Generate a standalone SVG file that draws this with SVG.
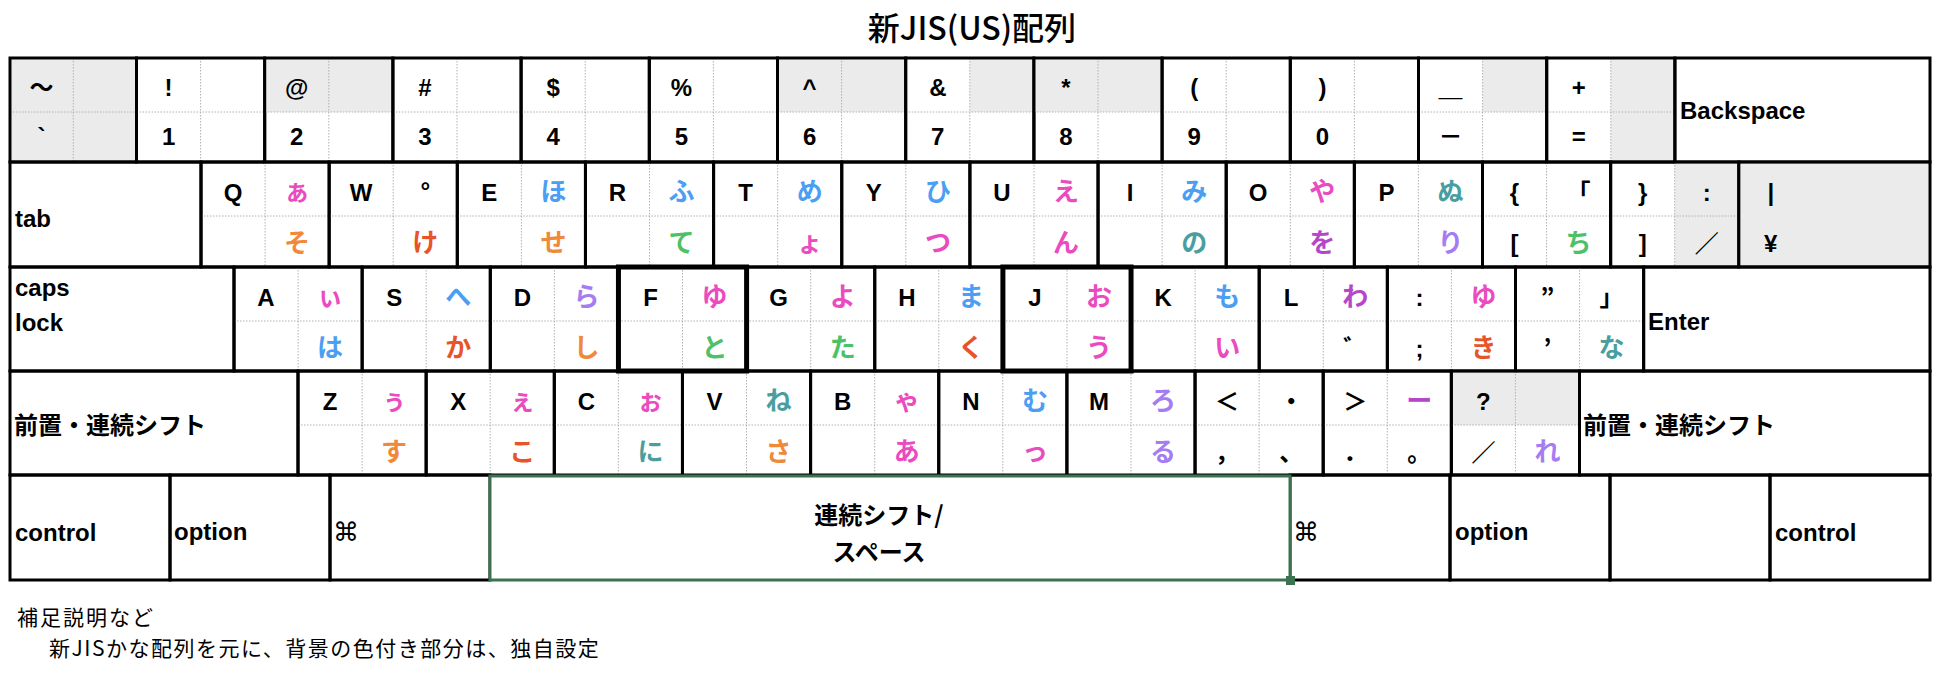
<svg xmlns="http://www.w3.org/2000/svg" width="1944" height="674" viewBox="0 0 1944 674">
<defs><style>
.k{fill:none;stroke:#000;stroke-width:3}
.kb{fill:none;stroke:#000;stroke-width:5}
.g{fill:#ebebeb}
.d{fill:none;stroke:#b0b0b0;stroke-width:1;stroke-dasharray:1.5 1.5}
text{font-family:"Liberation Sans","Noto Sans CJK JP",sans-serif;font-weight:bold;font-size:24px;fill:#000;text-anchor:middle}
.j{font-family:"Noto Sans CJK JP",sans-serif}
.s{text-anchor:start}
.pk,.or,.ro,.bl,.gr,.te,.pu,.la{font-family:"Noto Sans CJK JP",sans-serif;font-size:26px}
.pk{fill:#ea4bbf}.or{fill:#f0893a}.ro{fill:#e8532a}.bl{fill:#4c9ef3}.gr{fill:#4dc167}.te{fill:#4a9e9f}.pu{fill:#b447c9}.la{fill:#a57cf2}
.title{font-family:"Noto Sans CJK JP",sans-serif;font-weight:500;font-size:32px}
.note{font-family:"Noto Sans CJK JP",sans-serif;font-weight:normal;font-size:21px;text-anchor:start}
.cmd{font-family:"DejaVu Sans",sans-serif;font-weight:normal;font-size:26px;text-anchor:start}
.sp{fill:none;stroke:#3b7250;stroke-width:3}
</style></defs>
<rect x="0" y="0" width="1944" height="674" fill="#fff"/>
<text class="title" x="972" y="40">新JIS(US)配列</text>

<!-- Row 1 -->
<g id="key-tilde">
<rect class="g" x="11.5" y="59.5" width="123.5" height="101"/>
<path class="d" d="M73.25 58V162M10 112H136.5"/>
<rect class="k" x="10" y="58" width="126.5" height="104"/>
<text class="j" x="41.6" y="96">～</text><text x="41.6" y="145">`</text>
</g>
<g id="key-1">
<path class="d" d="M200.6 58V162M136.5 112H264.7"/>
<rect class="k" x="136.5" y="58" width="128.2" height="104"/>
<text x="168.6" y="96">!</text><text x="168.6" y="145">1</text>
</g>
<g id="key-2">
<rect class="g" x="266.2" y="59.5" width="125.2" height="52.5"/>
<path class="d" d="M328.8 58V162M264.7 112H392.9"/>
<rect class="k" x="264.7" y="58" width="128.2" height="104"/>
<text x="296.8" y="96">@</text><text x="296.8" y="145">2</text>
</g>
<g id="key-3">
<path class="d" d="M457 58V162M392.9 112H521.1"/>
<rect class="k" x="392.9" y="58" width="128.2" height="104"/>
<text x="425" y="96">#</text><text x="425" y="145">3</text>
</g>
<g id="key-4">
<path class="d" d="M585.2 58V162M521.1 112H649.3"/>
<rect class="k" x="521.1" y="58" width="128.2" height="104"/>
<text x="553.2" y="96">$</text><text x="553.2" y="145">4</text>
</g>
<g id="key-5">
<path class="d" d="M713.4 58V162M649.3 112H777.5"/>
<rect class="k" x="649.3" y="58" width="128.2" height="104"/>
<text x="681.4" y="96">%</text><text x="681.4" y="145">5</text>
</g>
<g id="key-6">
<rect class="g" x="779" y="59.5" width="125.2" height="52.5"/>
<path class="d" d="M841.6 58V162M777.5 112H905.7"/>
<rect class="k" x="777.5" y="58" width="128.2" height="104"/>
<text x="809.6" y="96">^</text><text x="809.6" y="145">6</text>
</g>
<g id="key-7">
<rect class="g" x="969.8" y="59.5" width="62.6" height="52.5"/>
<path class="d" d="M969.8 58V162M905.7 112H1033.9"/>
<rect class="k" x="905.7" y="58" width="128.2" height="104"/>
<text x="937.8" y="96">&amp;</text><text x="937.8" y="145">7</text>
</g>
<g id="key-8">
<rect class="g" x="1035.4" y="59.5" width="125.2" height="52.5"/>
<path class="d" d="M1098 58V162M1033.9 112H1162.1"/>
<rect class="k" x="1033.9" y="58" width="128.2" height="104"/>
<text x="1066" y="96">*</text><text x="1066" y="145">8</text>
</g>
<g id="key-9">
<path class="d" d="M1226.2 58V162M1162.1 112H1290.3"/>
<rect class="k" x="1162.1" y="58" width="128.2" height="104"/>
<text x="1194.2" y="96">(</text><text x="1194.2" y="145">9</text>
</g>
<g id="key-0">
<path class="d" d="M1354.4 58V162M1290.3 112H1418.5"/>
<rect class="k" x="1290.3" y="58" width="128.2" height="104"/>
<text x="1322.4" y="96">)</text><text x="1322.4" y="145">0</text>
</g>
<g id="key-minus">
<rect class="g" x="1482.6" y="59.5" width="62.6" height="52.5"/>
<path class="d" d="M1482.6 58V162M1418.5 112H1546.7"/>
<rect class="k" x="1418.5" y="58" width="128.2" height="104"/>
<text class="j" x="1450.6" y="96">＿</text><text class="j" x="1450.6" y="145">－</text>
</g>
<g id="key-equal">
<rect class="g" x="1610.8" y="59.5" width="62.6" height="101"/>
<path class="d" d="M1610.8 58V162M1546.7 112H1674.9"/>
<rect class="k" x="1546.7" y="58" width="128.2" height="104"/>
<text x="1578.8" y="96">+</text><text x="1578.8" y="145">=</text>
</g>
<g id="key-backspace">
<rect class="k" x="1674.9" y="58" width="255.1" height="104"/>
<text class="s" x="1680" y="119">Backspace</text>
</g>

<!-- Row 2 -->
<g id="key-tab">
<rect class="k" x="10" y="162" width="191" height="105"/>
<text class="s" x="15" y="227">tab</text>
</g>
<g id="key-q">
<path class="d" d="M265.1 162V267M201 216H329.15"/>
<rect class="k" x="201" y="162" width="128.15" height="105"/>
<text x="233" y="201">Q</text><text class="pk" x="297.1" y="201" font-size="20">ぁ</text><text class="or" x="297.1" y="252">そ</text>
</g>
<g id="key-w">
<path class="d" d="M393.2 162V267M329.15 216H457.3"/>
<rect class="k" x="329.15" y="162" width="128.15" height="105"/>
<text x="361.2" y="201">W</text><text class="j" x="425.3" y="201">°</text><text class="ro" x="425.3" y="252">け</text>
</g>
<g id="key-e">
<path class="d" d="M521.4 162V267M457.3 216H585.45"/>
<rect class="k" x="457.3" y="162" width="128.15" height="105"/>
<text x="489.3" y="201">E</text><text class="bl" x="553.4" y="201">ほ</text><text class="or" x="553.4" y="252">せ</text>
</g>
<g id="key-r">
<path class="d" d="M649.5 162V267M585.45 216H713.6"/>
<rect class="k" x="585.45" y="162" width="128.15" height="105"/>
<text x="617.5" y="201">R</text><text class="bl" x="681.6" y="201">ふ</text><text class="gr" x="681.6" y="252">て</text>
</g>
<g id="key-t">
<path class="d" d="M777.7 162V267M713.6 216H841.75"/>
<rect class="k" x="713.6" y="162" width="128.15" height="105"/>
<text x="745.6" y="201">T</text><text class="bl" x="809.7" y="201">め</text><text class="pk" x="809.7" y="252">ょ</text>
</g>
<g id="key-y">
<path class="d" d="M905.8 162V267M841.75 216H969.9"/>
<rect class="k" x="841.75" y="162" width="128.15" height="105"/>
<text x="873.8" y="201">Y</text><text class="bl" x="937.9" y="201">ひ</text><text class="pk" x="937.9" y="252">つ</text>
</g>
<g id="key-u">
<path class="d" d="M1034 162V267M969.9 216H1098.05"/>
<rect class="k" x="969.9" y="162" width="128.15" height="105"/>
<text x="1001.9" y="201">U</text><text class="pk" x="1066" y="201">え</text><text class="pk" x="1066" y="252">ん</text>
</g>
<g id="key-i">
<path class="d" d="M1162.1 162V267M1098.05 216H1226.2"/>
<rect class="k" x="1098.05" y="162" width="128.15" height="105"/>
<text x="1130.1" y="201">I</text><text class="bl" x="1194.2" y="201">み</text><text class="te" x="1194.2" y="252">の</text>
</g>
<g id="key-o">
<path class="d" d="M1290.3 162V267M1226.2 216H1354.35"/>
<rect class="k" x="1226.2" y="162" width="128.15" height="105"/>
<text x="1258.2" y="201">O</text><text class="pk" x="1322.3" y="201">や</text><text class="pu" x="1322.3" y="252">を</text>
</g>
<g id="key-p">
<path class="d" d="M1418.4 162V267M1354.35 216H1482.5"/>
<rect class="k" x="1354.35" y="162" width="128.15" height="105"/>
<text x="1386.4" y="201">P</text><text class="te" x="1450.5" y="201">ぬ</text><text class="la" x="1450.5" y="252">り</text>
</g>
<g id="key-lbracket">
<path class="d" d="M1546.6 162V267M1482.5 216H1610.65"/>
<rect class="k" x="1482.5" y="162" width="128.15" height="105"/>
<text x="1514.5" y="201">{</text><text x="1514.5" y="252">[</text><text class="j" x="1578.6" y="201">「</text><text class="gr" x="1578.6" y="252">ち</text>
</g>
<g id="key-rbracket">
<rect class="g" x="1674.7" y="163.5" width="62.6" height="102"/>
<path class="d" d="M1674.7 162V267M1610.65 216H1738.8"/>
<rect class="k" x="1610.65" y="162" width="128.15" height="105"/>
<text x="1642.7" y="201">}</text><text x="1642.7" y="252">]</text><text x="1706.8" y="201">:</text><text class="j" x="1706.8" y="252">／</text>
</g>
<g id="key-yen">
<rect class="g" x="1740.3" y="163.5" width="188.2" height="102"/>
<rect class="k" x="1738.8" y="162" width="191.2" height="105"/>
<text x="1770.8" y="201">|</text><text x="1770.8" y="252">¥</text>
</g>

<!-- Row 3 -->
<g id="key-caps">
<rect class="k" x="10" y="267" width="224" height="104"/>
<text class="s" x="15" y="296">caps</text><text class="s" x="15" y="331">lock</text>
</g>
<g id="key-a">
<path class="d" d="M298.1 267V371M234 321H362.15"/>
<rect class="k" x="234" y="267" width="128.15" height="104"/>
<text x="266" y="306">A</text><text class="pk" x="330.1" y="306">ぃ</text><text class="bl" x="330.1" y="357">は</text>
</g>
<g id="key-s">
<path class="d" d="M426.2 267V371M362.15 321H490.3"/>
<rect class="k" x="362.15" y="267" width="128.15" height="104"/>
<text x="394.2" y="306">S</text><text class="bl" x="458.3" y="306">へ</text><text class="ro" x="458.3" y="357">か</text>
</g>
<g id="key-d">
<path class="d" d="M554.4 267V371M490.3 321H618.45"/>
<rect class="k" x="490.3" y="267" width="128.15" height="104"/>
<text x="522.3" y="306">D</text><text class="la" x="586.4" y="306">ら</text><text class="or" x="586.4" y="357">し</text>
</g>
<g id="key-g">
<path class="d" d="M810.7 267V371M746.6 321H874.75"/>
<rect class="k" x="746.6" y="267" width="128.15" height="104"/>
<text x="778.6" y="306">G</text><text class="pk" x="842.7" y="306">よ</text><text class="gr" x="842.7" y="357">た</text>
</g>
<g id="key-h">
<path class="d" d="M938.8 267V371M874.75 321H1002.9"/>
<rect class="k" x="874.75" y="267" width="128.15" height="104"/>
<text x="906.8" y="306">H</text><text class="bl" x="970.9" y="306">ま</text><text class="ro" x="970.9" y="357">く</text>
</g>
<g id="key-k">
<path class="d" d="M1195.1 267V371M1131.05 321H1259.2"/>
<rect class="k" x="1131.05" y="267" width="128.15" height="104"/>
<text x="1163.1" y="306">K</text><text class="bl" x="1227.2" y="306">も</text><text class="pk" x="1227.2" y="357">い</text>
</g>
<g id="key-l">
<path class="d" d="M1323.3 267V371M1259.2 321H1387.35"/>
<rect class="k" x="1259.2" y="267" width="128.15" height="104"/>
<text x="1291.2" y="306">L</text><text class="pu" x="1355.3" y="306">わ</text><text class="j" x="1355.3" y="357">゛</text>
</g>
<g id="key-semicolon">
<path class="d" d="M1451.4 267V371M1387.35 321H1515.5"/>
<rect class="k" x="1387.35" y="267" width="128.15" height="104"/>
<text x="1419.4" y="306">:</text><text x="1419.4" y="357">;</text><text class="pk" x="1483.5" y="306">ゆ</text><text class="ro" x="1483.5" y="357">き</text>
</g>
<g id="key-quote">
<path class="d" d="M1579.6 267V371M1515.5 321H1643.65"/>
<rect class="k" x="1515.5" y="267" width="128.15" height="104"/>
<text class="j" x="1547.5" y="306">”</text><text class="j" x="1547.5" y="357">’</text><text class="j" x="1611.6" y="306">」</text><text class="te" x="1611.6" y="357">な</text>
</g>
<g id="key-enter">
<rect class="k" x="1643.65" y="267" width="286.35" height="104"/>
<text class="s" x="1648" y="330">Enter</text>
</g>

<!-- Row 4 -->
<g id="key-lshift">
<rect class="k" x="10" y="371" width="288" height="104"/>
<text class="s j" x="14" y="434">前置・連続シフト</text>
</g>
<g id="key-z">
<path class="d" d="M362.1 371V475M298 425H426.15"/>
<rect class="k" x="298" y="371" width="128.15" height="104"/>
<text x="330" y="410">Z</text><text class="pk" x="394.1" y="410">ぅ</text><text class="or" x="394.1" y="461">す</text>
</g>
<g id="key-x">
<path class="d" d="M490.2 371V475M426.15 425H554.3"/>
<rect class="k" x="426.15" y="371" width="128.15" height="104"/>
<text x="458.2" y="410">X</text><text class="pk" x="522.3" y="410">ぇ</text><text class="ro" x="522.3" y="461">こ</text>
</g>
<g id="key-c">
<path class="d" d="M618.4 371V475M554.3 425H682.45"/>
<rect class="k" x="554.3" y="371" width="128.15" height="104"/>
<text x="586.3" y="410">C</text><text class="pk" x="650.4" y="410">ぉ</text><text class="te" x="650.4" y="461">に</text>
</g>
<g id="key-v">
<path class="d" d="M746.5 371V475M682.45 425H810.6"/>
<rect class="k" x="682.45" y="371" width="128.15" height="104"/>
<text x="714.5" y="410">V</text><text class="te" x="778.6" y="410">ね</text><text class="or" x="778.6" y="461">さ</text>
</g>
<g id="key-b">
<path class="d" d="M874.7 371V475M810.6 425H938.75"/>
<rect class="k" x="810.6" y="371" width="128.15" height="104"/>
<text x="842.6" y="410">B</text><text class="pk" x="906.7" y="410">ゃ</text><text class="pk" x="906.7" y="461">あ</text>
</g>
<g id="key-n">
<path class="d" d="M1002.8 371V475M938.75 425H1066.9"/>
<rect class="k" x="938.75" y="371" width="128.15" height="104"/>
<text x="970.8" y="410">N</text><text class="bl" x="1034.9" y="410">む</text><text class="pk" x="1034.9" y="461">っ</text>
</g>
<g id="key-m">
<path class="d" d="M1131 371V475M1066.9 425H1195.05"/>
<rect class="k" x="1066.9" y="371" width="128.15" height="104"/>
<text x="1098.9" y="410">M</text><text class="la" x="1163" y="410">ろ</text><text class="la" x="1163" y="461">る</text>
</g>
<g id="key-comma">
<path class="d" d="M1259.1 371V475M1195.05 425H1323.2"/>
<rect class="k" x="1195.05" y="371" width="128.15" height="104"/>
<text class="j" x="1227.1" y="410">＜</text><text class="j" x="1227.1" y="461">，</text><text class="j" x="1291.2" y="410">・</text><text class="j" x="1291.2" y="461">、</text>
</g>
<g id="key-period">
<path class="d" d="M1387.3 371V475M1323.2 425H1451.35"/>
<rect class="k" x="1323.2" y="371" width="128.15" height="104"/>
<text class="j" x="1355.2" y="410">＞</text><text class="j" x="1355.2" y="461">．</text><text class="pu" x="1419.3" y="410">ー</text><text class="j" x="1419.3" y="461">。</text>
</g>
<g id="key-slash">
<rect class="g" x="1452.85" y="372.5" width="125.15" height="52.5"/>
<path class="d" d="M1515.4 371V475M1451.35 425H1579.5"/>
<rect class="k" x="1451.35" y="371" width="128.15" height="104"/>
<text x="1483.4" y="410">?</text><text class="j" x="1483.4" y="461">／</text><text class="la" x="1547.5" y="461">れ</text>
</g>
<g id="key-rshift">
<rect class="k" x="1579.5" y="371" width="350.5" height="104"/>
<text class="s j" x="1583" y="434">前置・連続シフト</text>
</g>

<!-- Home keys with bold borders -->
<g id="key-f">
<path class="d" d="M682.5 267V371M618.45 321H746.6"/>
<rect class="kb" x="618.45" y="267" width="128.15" height="104"/>
<text x="650.5" y="306">F</text><text class="pk" x="714.6" y="306">ゆ</text><text class="gr" x="714.6" y="357">と</text>
</g>
<g id="key-j">
<path class="d" d="M1067 267V371M1002.9 321H1131.05"/>
<rect class="kb" x="1002.9" y="267" width="128.15" height="104"/>
<text x="1034.9" y="306">J</text><text class="pk" x="1099" y="306">お</text><text class="pk" x="1099" y="357">う</text>
</g>

<!-- Row 5 -->
<g id="key-lcontrol">
<rect class="k" x="10" y="475" width="160" height="105"/>
<text class="s" x="15" y="541">control</text>
</g>
<g id="key-loption">
<rect class="k" x="170" y="475" width="160" height="105"/>
<text class="s" x="174" y="540">option</text>
</g>
<g id="key-lcmd">
<rect class="k" x="330" y="475" width="160" height="105"/>
<text class="cmd" x="333" y="541">⌘</text>
</g>
<g id="key-rcmd">
<rect class="k" x="1290" y="475" width="160" height="105"/>
<text class="cmd" x="1293" y="541">⌘</text>
</g>
<g id="key-roption">
<rect class="k" x="1450" y="475" width="160" height="105"/>
<text class="s" x="1455" y="540">option</text>
</g>
<g id="key-blank">
<rect class="k" x="1610" y="475" width="160" height="105"/>
</g>
<g id="key-rcontrol">
<rect class="k" x="1770" y="475" width="160" height="105"/>
<text class="s" x="1775" y="541">control</text>
</g>
<g id="key-space">
<rect x="490" y="476.5" width="800" height="103" fill="#fff"/>
<rect class="sp" x="490" y="476" width="800" height="104"/>
<rect x="1286" y="576" width="9" height="9" fill="#3b7250"/>
<text class="j" x="879" y="524">連続シフト/</text>
<text class="j" x="879" y="561">スペース</text>
</g>

<g id="connectors"></g>

<text class="note" x="17" y="625" letter-spacing="2">補足説明など</text>
<text class="note" x="49" y="656" letter-spacing="1.5">新JISかな配列を元に、背景の色付き部分は、独自設定</text>
</svg>
